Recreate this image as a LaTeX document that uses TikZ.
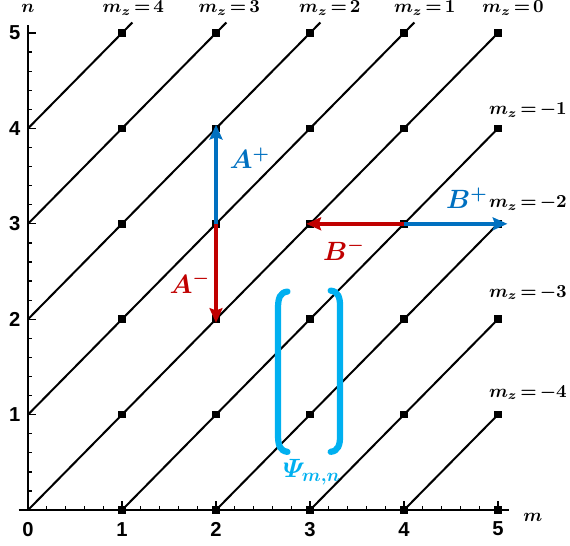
\documentclass[tikz,border=0pt]{standalone}
\usepackage{fontspec}
\newfontfamily\tickfont{Liberation Sans}
\usepackage{amsmath}
\usetikzlibrary{arrows.meta}
\definecolor{opblue}{RGB}{0,112,192}
\definecolor{opred}{RGB}{192,0,0}
\definecolor{psicyan}{RGB}{0,176,240}
\newcommand\mzfont{\boldmath\fontsize{9.8}{11}\selectfont\thickmuskip=2.5mu\relax}

\begin{document}
\begin{tikzpicture}[x=1.8cm, y=1.827cm,
        site/.style={fill=black, inner sep=0pt, minimum size=4.2pt},
        diag/.style={line width=1.1pt},
        axis/.style={line width=1pt},
        tk/.style={line width=0.7pt},
        tklab/.style={font=\tickfont\bfseries\fontsize{11}{12}\selectfont},
        mzl/.style={font=\mzfont, inner sep=1pt},
        opl/.style={font=\boldmath\Large},
        oparrow/.style={line width=2.2pt, shorten >=-2pt, -{Stealth[length=8pt, width=7pt, inset=1.2pt]}},
        brk/.style={psicyan, line width=3.4pt, line cap=round}]
    \useasboundingbox (-0.298,-0.367) rectangle (5.766,5.346);
    % lattice points
    \foreach \m in {0,...,5}
        \foreach \n in {0,...,5}
            \coordinate (p\m\n) at (\m,\n);
    \coordinate (xl) at (-0.1,0);
    \coordinate (xr) at (5.12,0);
    \coordinate (yt) at (0,5.08);
    \coordinate (bend) at (5.1,3);
    % axes and ticks
    \draw[axis] (xl) -- (xr);
    \draw[axis] (p00) -- (yt);
    \foreach \i in {1,...,25} {
        \draw[tk] (\i/5,0) -- ++(0,0.045);
        \draw[tk] (0,\i/5) -- ++(0.045,0);
    }
    \foreach \i in {0,...,5} {
        \draw[tk] (\i,0) -- ++(0,0.09);
        \draw[tk] (0,\i) -- ++(0.09,0);
        \node[tklab] (xt\i) at (\i,-0.2) {\i};
    }
    \foreach \i in {1,...,5}
        \node[tklab] (yt\i) at (-0.14,\i) {\i};
    \node[mzl] (mlab) at (5.37,-0.08) {$m$};
    \node[mzl] (nlab) at (0,5.26) {$n$};
    % lines of constant m_z
    \foreach \a/\b in {04/15, 03/25, 02/35, 01/45}
        \draw[diag, shorten >=-8pt] (p\a) -- (p\b);
    \foreach \a/\b in {00/55, 10/54, 20/53, 30/52, 40/51}
        \draw[diag] (p\a) -- (p\b);
    \foreach \m in {1,...,5}
        \foreach \n in {0,...,5}
            \node[site] (s\m\n) at (p\m\n) {};
    % ladder operators
    \draw[oparrow, opblue] (p23) -- (p24);
    \draw[oparrow, opred] (p23) -- (p22);
    \draw[oparrow, opred] (p43) -- (p33);
    \draw[oparrow, opblue, shorten >=0pt] (p43) -- (bend);
    \node[opl, opblue] (lAp) at (2.36,3.69) {$A^+$};
    \node[opl, opred] (lAm) at (1.72,2.38) {$A^-$};
    \node[opl, opred] (lBm) at (3.36,2.73) {$B^-$};
    \node[opl, opblue] (lBp) at (4.67,3.27) {$B^+$};
    % m_z labels
    \foreach \k/\x in {4/1.12, 3/2.14, 2/3.21, 1/4.22, 0/5.16}
        \node[mzl] (mzt\k) at (\x,5.26) {$m_z = \k$};
    \foreach \k/\y in {1/4.19, 2/3.22, 3/2.28, 4/1.23}
        \node[mzl, anchor=east] (mzr\k) at (5.755,\y) {$m_z = -\k$};
    % state vector
    \draw[brk] (2.76,2.29) .. controls (2.68,2.28) and (2.66,2.22) .. (2.66,2.12)
        -- (2.66,0.78) .. controls (2.66,0.68) and (2.68,0.62) .. (2.76,0.61);
    \draw[brk] (3.22,2.30) .. controls (3.30,2.29) and (3.32,2.23) .. (3.32,2.13)
        -- (3.32,0.78) .. controls (3.32,0.68) and (3.30,0.62) .. (3.22,0.61);
    \node[opl, psicyan] (lpsi) at (3.02,0.40) {$\varPsi_{m,n}$};
\end{tikzpicture}
\end{document}
